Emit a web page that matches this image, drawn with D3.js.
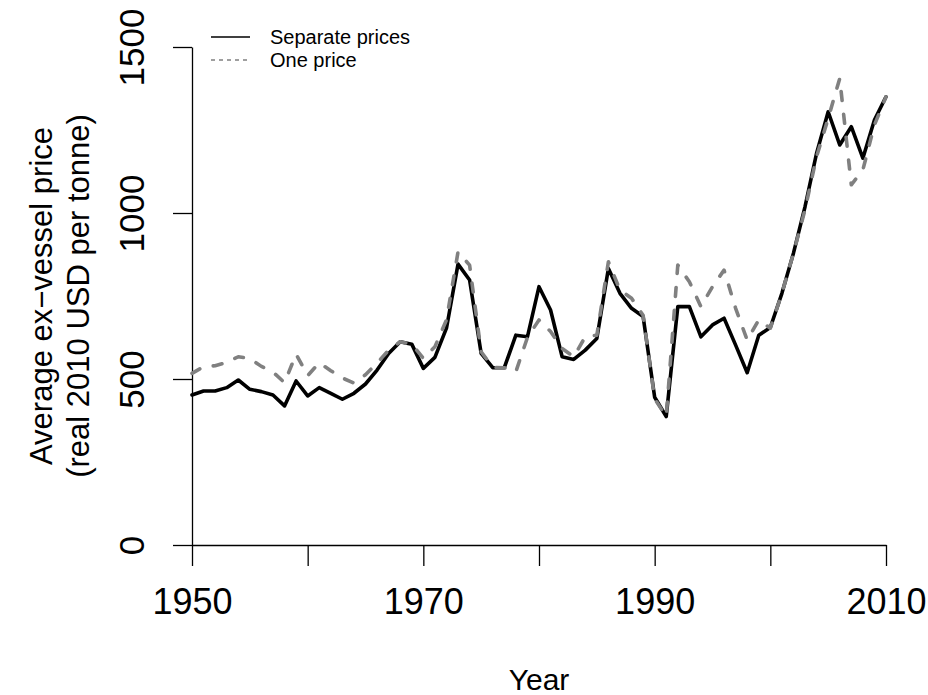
<!DOCTYPE html>
<html>
<head>
<meta charset="utf-8">
<script src="https://cdn.jsdelivr.net/npm/d3@7"></script>
<style>
  body { margin: 0; background: #fff; }
  svg text { font-family: "Liberation Sans", Arial, Helvetica, sans-serif; fill: #000; }
</style>
</head>
<body>
<svg id="canvas" width="928" height="695"></svg>
<script>
// years on the x axis
let years = [
  1950, 1951, 1952, 1953, 1954, 1955, 1956, 1957, 1958, 1959,
  1960, 1961, 1962, 1963, 1964, 1965, 1966, 1967, 1968, 1969,
  1970, 1971, 1972, 1973, 1974, 1975, 1976, 1977, 1978, 1979,
  1980, 1981, 1982, 1983, 1984, 1985, 1986, 1987, 1988, 1989,
  1990, 1991, 1992, 1993, 1994, 1995, 1996, 1997, 1998, 1999,
  2000, 2001, 2002, 2003, 2004, 2005, 2006, 2007, 2008, 2009, 2010
];

// average ex-vessel price, separate prices model
let separatePrices = [
  452, 464, 464, 474, 497, 469, 462, 452, 419, 494,
  449, 474, 457, 439, 457, 485, 527, 577, 612, 605,
  532, 565, 653, 846, 798, 577, 534, 534, 632, 627,
  778, 708, 567, 559, 587, 622, 833, 758, 713, 688,
  445, 387, 718, 718, 627, 663, 683, 602, 519, 632,
  655, 758, 879, 1019, 1180, 1305, 1205, 1260, 1165, 1280, 1350
];

// average ex-vessel price, one price model
let onePrice = [
  517, 537, 540, 550, 567, 562, 538, 521, 489, 575,
  510, 549, 525, 503, 488, 513, 548, 587, 612, 605,
  562, 597, 678, 883, 843, 582, 535, 534, 522, 625,
  678, 643, 592, 567, 627, 632, 853, 768, 743, 692,
  440, 387, 843, 793, 718, 778, 828, 713, 617, 678,
  653, 758, 879, 1010, 1170, 1285, 1405, 1085, 1130, 1265, 1350
];

let xTicks = [1950, 1960, 1970, 1980, 1990, 2000, 2010];
let xTickLabels = ["1950", "", "1970", "", "1990", "", "2010"];
let yTicks = [0, 500, 1000, 1500];

let legendData = [
  { label: "Separate prices", color: "#000000", dash: null },
  { label: "One price", color: "#808080", dash: "4,4" }
];

let svg = d3.select("#canvas");

let xScale = d3.scaleLinear().domain([1950, 2010]).range([192, 886]);
let yScale = d3.scaleLinear().domain([0, 1500]).range([545, 47]);

// x axis
let xAxis = d3.axisBottom(xScale)
  .tickValues(xTicks)
  .tickFormat((d, i) => xTickLabels[i])
  .tickSize(21)
  .tickPadding(22)
  .tickSizeOuter(0);

let gx = svg.append("g")
  .attr("transform", "translate(0," + yScale(0) + ")")
  .call(xAxis);
gx.select(".domain").attr("stroke", "#000").attr("stroke-width", 1.3);
gx.selectAll(".tick line").attr("stroke", "#000").attr("stroke-width", 1.3);
gx.selectAll(".tick text").attr("font-size", "36px").attr("dy", "0.71em");

// y axis
let yAxis = d3.axisLeft(yScale)
  .tickValues(yTicks)
  .tickSize(19)
  .tickSizeOuter(0)
  .tickFormat(d3.format("d"));

let gy = svg.append("g")
  .attr("transform", "translate(" + xScale(1950) + ",0)")
  .call(yAxis);
gy.select(".domain").attr("stroke", "#000").attr("stroke-width", 1.3);
gy.selectAll(".tick line").attr("stroke", "#000").attr("stroke-width", 1.3);
gy.selectAll(".tick text")
  .attr("font-size", "35px")
  .attr("text-anchor", "middle")
  .attr("x", null)
  .attr("dy", null)
  .attr("transform", "translate(-48,0) rotate(-90)");

// axis titles
let midY = (yScale(0) + yScale(1500)) / 2;
svg.append("text")
  .attr("transform", "translate(52," + midY + ") rotate(-90)")
  .attr("text-anchor", "middle")
  .attr("font-size", "31px")
  .text("Average ex\u2212vessel price");
svg.append("text")
  .attr("transform", "translate(89," + midY + ") rotate(-90)")
  .attr("text-anchor", "middle")
  .attr("font-size", "31px")
  .text("(real 2010 USD per tonne)");

svg.append("text")
  .attr("x", (xScale(1950) + xScale(2010)) / 2)
  .attr("y", 690)
  .attr("text-anchor", "middle")
  .attr("font-size", "30px")
  .text("Year");

// lines
let line = (values) => d3.line()
  .x((d, i) => xScale(years[i]))
  .y((d) => yScale(d))(values);

svg.append("path")
  .attr("d", line(separatePrices))
  .attr("fill", "none")
  .attr("stroke", "#000")
  .attr("stroke-width", 3.6)
  .attr("stroke-linejoin", "round")
  .attr("stroke-linecap", "round");

svg.append("path")
  .attr("d", line(onePrice))
  .attr("fill", "none")
  .attr("stroke", "#808080")
  .attr("stroke-width", 3.6)
  .attr("stroke-dasharray", "9,14")
  .attr("stroke-linejoin", "round")
  .attr("stroke-linecap", "round");

// legend
let legend = svg.append("g");
legend.selectAll("line")
  .data(legendData)
  .enter()
  .append("line")
  .attr("x1", 211)
  .attr("x2", 250)
  .attr("y1", (d, i) => 37 + i * 23)
  .attr("y2", (d, i) => 37 + i * 23)
  .attr("stroke", (d) => d.color)
  .attr("stroke-width", (d, i) => i === 0 ? 1.6 : 1.4)
  .attr("stroke-dasharray", (d) => d.dash);

legend.selectAll("text")
  .data(legendData)
  .enter()
  .append("text")
  .attr("x", 270)
  .attr("y", (d, i) => 37 + i * 23)
  .attr("dy", "0.36em")
  .attr("font-size", "20px")
  .text((d) => d.label);
</script>
</body>
</html>
